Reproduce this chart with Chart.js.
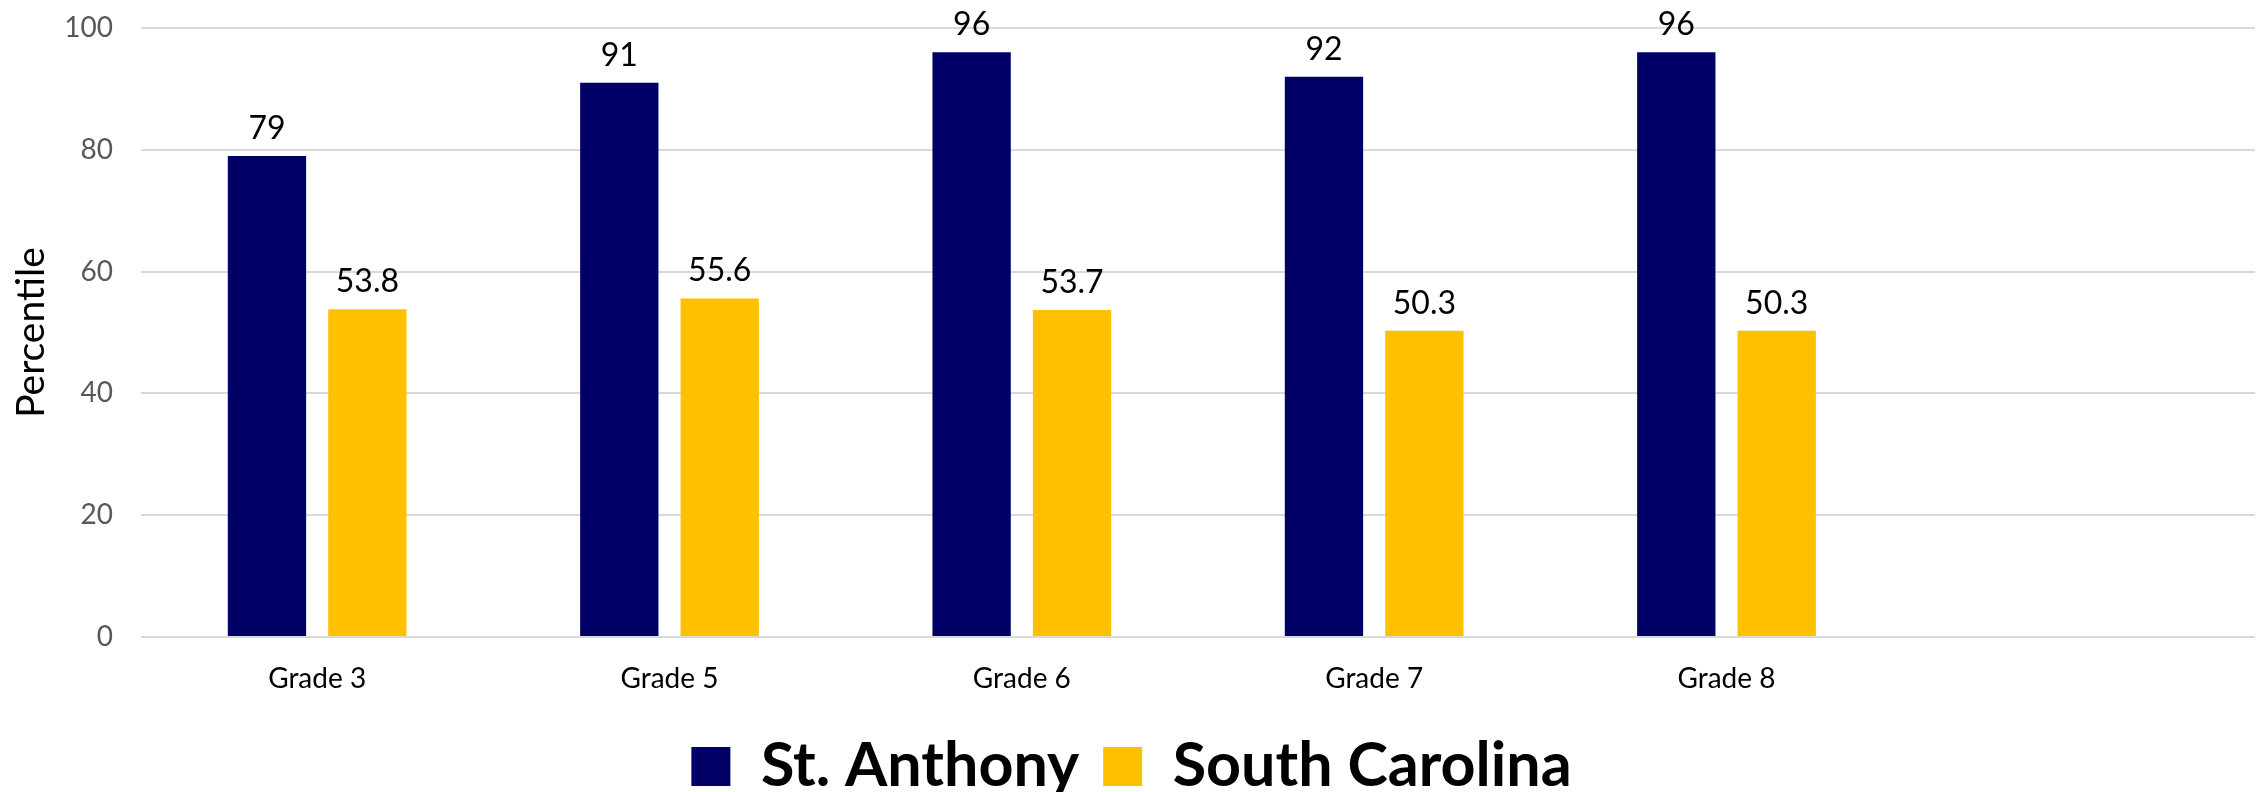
<!DOCTYPE html>
<html>
<head>
<meta charset="utf-8">
<script src="https://cdn.jsdelivr.net/npm/chart.js@4"></script>
<style>
    html, body { margin: 0; padding: 0; background: #ffffff; }
    #wrap { width: 2260px; height: 792px; position: relative; }
</style>
</head>
<body>
<div id="wrap"><canvas id="gradeChart"></canvas></div>
<script>
// Chart data (last category is left empty, as in the original sheet)
const grades = ['Grade 3', 'Grade 5', 'Grade 6', 'Grade 7', 'Grade 8', ''];
const stAnthony = [79, 91, 96, 92, 96];
const southCarolina = [53.8, 55.6, 53.7, 50.3, 50.3];
const yTicks = [0, 20, 40, 60, 80, 100];

const navy = '#000066';
const gold = '#FFC000';
const fontFamily = 'Lato, "Open Sans", sans-serif';

// Draws the value above each bar
const barValueLabels = {
    id: 'barValueLabels',
    afterDatasetsDraw(chart) {
        const ctx = chart.ctx;
        ctx.save();
        ctx.font = '32px ' + fontFamily;
        ctx.fillStyle = '#000000';
        ctx.textAlign = 'center';
        ctx.textBaseline = 'alphabetic';
        chart.data.datasets.forEach(function(ds, i) {
            const meta = chart.getDatasetMeta(i);
            meta.data.forEach(function(bar, j) {
                const v = ds.data[j];
                if (v === null || v === undefined) return;
                ctx.fillText(String(v), bar.x, bar.y - 17);
            });
        });
        ctx.restore();
    }
};

document.addEventListener('DOMContentLoaded', function() {
    const ctx = document.getElementById('gradeChart').getContext('2d');

    new Chart(ctx, {
        type: 'bar',
        data: {
            labels: grades,
            datasets: [
                {
                    label: 'St. Anthony',
                    data: stAnthony,
                    backgroundColor: navy,
                    borderWidth: 0
                },
                {
                    label: 'South Carolina',
                    data: southCarolina,
                    backgroundColor: gold,
                    borderWidth: 0
                }
            ]
        },
        options: {
            responsive: true,
            maintainAspectRatio: false,
            animation: false,
            devicePixelRatio: 1,
            categoryPercentage: 0.57,
            barPercentage: 0.78,
            layout: {
                padding: { top: 28, right: 5, bottom: -15, left: 8 }
            },
            plugins: {
                legend: {
                    position: 'bottom',
                    labels: {
                        color: '#000000',
                        boxWidth: 39,
                        boxHeight: 39,
                        padding: 24,
                        font: { family: fontFamily, size: 61, weight: 'bold' }
                    }
                },
                tooltip: { enabled: false }
            },
            scales: {
                x: {
                    grid: { display: false },
                    border: { display: false },
                    ticks: {
                        color: '#000000',
                        padding: 30,
                        // small line height keeps the axis box short
                        font: { family: fontFamily, size: 28, lineHeight: 0.25 }
                    }
                },
                y: {
                    min: 0,
                    max: 100,
                    afterBuildTicks: function(axis) {
                        axis.ticks = yTicks.map(v => ({ value: v }));
                    },
                    afterFit: function(axis) {
                        // fixed axis width, and no tick padding above the plot
                        axis.width = 133;
                        axis.paddingTop = 14;
                        axis.paddingBottom = 14;
                    },
                    grid: {
                        color: '#d9d9d9',
                        lineWidth: 2,
                        drawTicks: false
                    },
                    border: { display: false },
                    title: {
                        display: true,
                        text: 'Percentile',
                        color: '#000000',
                        padding: { top: 0, bottom: 8 },
                        font: { family: fontFamily, size: 39 }
                    },
                    ticks: {
                        color: '#595959',
                        padding: 28,
                        font: { family: fontFamily, size: 28 }
                    }
                }
            }
        },
        plugins: [barValueLabels]
    });
});
</script>
</body>
</html>
